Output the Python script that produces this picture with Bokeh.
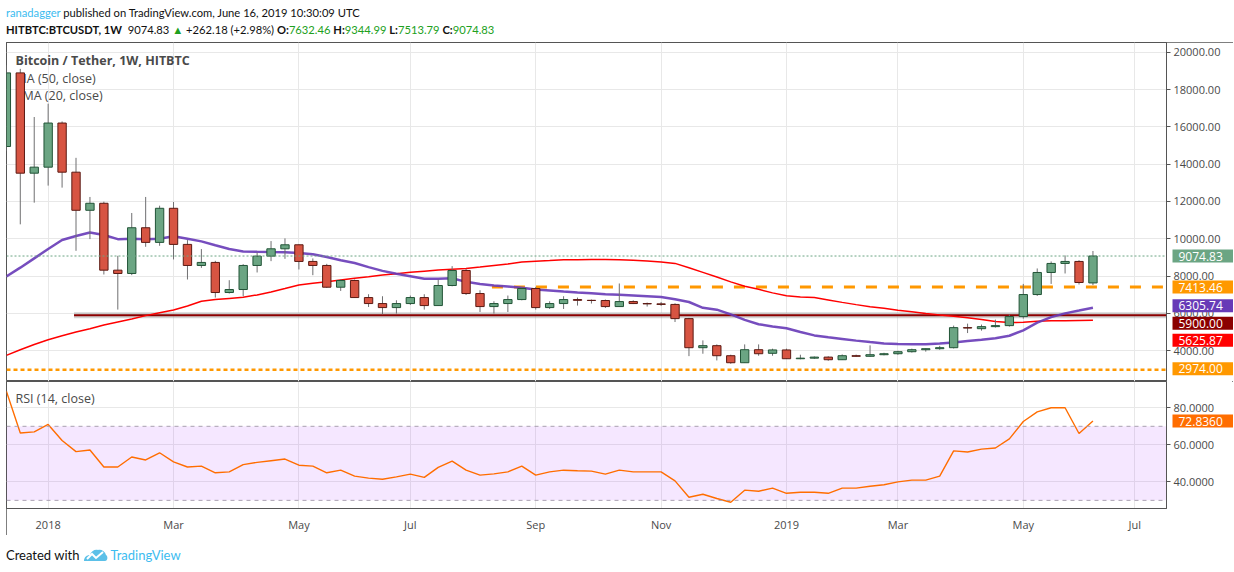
import pandas as pd
from bokeh.plotting import figure
from bokeh.models import (Range1d, FixedTicker, Span, BoxAnnotation, Label, Div,
                          NumeralTickFormatter, ColumnDataSource)
from bokeh.layouts import column
from bokeh.embed import file_html
from bokeh.resources import INLINE

# ---------------- data (weekly bars, BTC/USDT HitBTC) ----------------
first_week = "2017-12-11"
opens = [14945, 18891, 13515, 13838, 16203, 13569, 11526, 11902, 8317, 8139,
         10591, 9806, 11633, 9698, 8569, 8731, 7118, 7279, 8569, 9069,
         9462, 9677, 8784, 8569, 7403, 7763, 6849, 6527, 6311, 6527,
         6849, 6419, 7494, 8300, 7064, 6365, 6527, 6741, 7333, 6311,
         6527, 6741, 6700, 6690, 6365, 6634, 6527, 6510, 6480, 5720,
         4161, 4269, 3731, 3355, 4053, 3860, 4040, 3570, 3600, 3656,
         3516, 3731, 3700, 3785, 3838, 3946, 4053, 4107, 4161, 5236,
         5180, 5290, 5344, 5828, 7010, 8193, 8677, 8784, 7632.46]
highs = [19300, 19106, 16526, 17241, 16289, 14338, 12241, 11988, 9086, 11381,
         12241, 11773, 11972, 9930, 9446, 8817, 7779, 8639, 9268, 9876,
         10021, 9700, 8946, 8656, 7817, 7817, 7026, 6919, 6704, 6957,
         7026, 7817, 8532, 8387, 7241, 6650, 6957, 7419, 7419, 6650,
         6919, 6849, 6741, 6741, 7602, 6700, 6580, 6610, 6540, 5760,
         4553, 4338, 3785, 4338, 4338, 4107, 4110, 3785, 3690, 3700,
         3800, 3790, 4285, 3890, 4000, 4110, 4120, 4260, 5344, 5451,
         5400, 5666, 5935, 7580, 8408, 8784, 9107, 8850, 9344.99]
lows = [14700, 10773, 11935, 12849, 12741, 9354, 9983, 8085, 6204, 8050,
        9569, 9623, 8892, 7817, 8440, 6849, 7064, 6919, 8193, 8800,
        8924, 8354, 8048, 7365, 7204, 6827, 6344, 5951, 5989, 6451,
        6204, 6419, 7450, 6989, 6075, 5989, 6075, 6700, 6204, 6236,
        6236, 6419, 6527, 6290, 6365, 6500, 6365, 6400, 5537, 3709,
        3838, 3478, 3300, 3355, 3730, 3730, 3560, 3540, 3560, 3462,
        3500, 3680, 3680, 3750, 3780, 3900, 3950, 4050, 4120, 4946,
        5075, 5240, 5290, 5720, 6935, 7580, 8139, 7548, 7513.79]
closes = [18891, 13515, 13838, 16203, 13569, 11526, 11902, 8317, 8139, 10591,
          9806, 11633, 9698, 8569, 8731, 7118, 7279, 8569, 9069, 9462,
          9677, 8784, 8569, 7403, 7763, 6849, 6527, 6311, 6527, 6849,
          6419, 7494, 8300, 7064, 6365, 6527, 6741, 7333, 6311, 6527,
          6741, 6700, 6690, 6365, 6634, 6527, 6510, 6480, 5720, 4161,
          4269, 3731, 3355, 4053, 3838, 4040, 3570, 3600, 3656, 3516,
          3731, 3700, 3785, 3838, 3946, 4053, 4107, 4161, 5236, 5215,
          5290, 5344, 5828, 7010, 8193, 8677, 8784, 7655, 9074.83]
ema20 = [7980, 8450, 8950, 9450, 9930, 10150, 10340, 10200, 9980, 10000,
         9980, 10000, 10130, 10000, 9860, 9650, 9450, 9320, 9300, 9290,
         9280, 9240, 9170, 9020, 8850, 8700, 8480, 8280, 8120, 7990,
         7860, 7860, 7880, 7690, 7580, 7500, 7440, 7380, 7280, 7230,
         7170, 7120, 7080, 7030, 7000, 6960, 6920, 6880, 6760, 6610,
         6300, 6200, 5950, 5650, 5420, 5300, 5200, 5000, 4820, 4720,
         4630, 4540, 4460, 4390, 4360, 4340, 4340, 4380, 4440, 4520,
         4590, 4670, 4800, 5090, 5500, 5800, 6000, 6150, 6305.74]
ma50 = [3750, 4050, 4330, 4590, 4800, 5000, 5180, 5380, 5540, 5700,
        5880, 6030, 6180, 6400, 6650, 6740, 6800, 6860, 6990, 7150,
        7330, 7520, 7610, 7700, 7790, 7880, 7960, 8060, 8130, 8200,
        8260, 8320, 8370, 8410, 8480, 8570, 8650, 8760, 8800, 8830,
        8870, 8880, 8890, 8890, 8880, 8850, 8810, 8760, 8680, 8450,
        8200, 7950, 7690, 7450, 7290, 7100, 6940, 6880, 6850, 6720,
        6590, 6470, 6360, 6270, 6170, 6090, 6000, 5920, 5850, 5760,
        5670, 5560, 5510, 5520, 5580, 5600, 5610, 5620, 5625.87]
rsi14 = [89, 66.4, 67, 71, 62.3, 56.3, 57.2, 48, 48, 53.4,
         51.8, 55.7, 50.8, 48, 48.5, 44.9, 45.4, 49.3, 50.5, 51.4,
         52.3, 49, 48.5, 44.9, 46.3, 43.1, 42, 41.4, 42.7, 44.2,
         42.4, 47.8, 51.2, 46.3, 43.6, 44.3, 45.4, 48.5, 43.6, 45.4,
         46.3, 46, 45.8, 44.2, 46.3, 45.4, 45.4, 45.4, 40.5, 31.7,
         33.3, 31, 29, 35.5, 34.9, 36.6, 33.8, 34.4, 34.4, 33.8,
         36.6, 36.6, 37.6, 38.4, 40, 40.9, 40.9, 43.1, 56.7, 56.1,
         57.7, 58.3, 63.2, 72.6, 77.8, 80, 80, 66.1, 72.836]

month_tick_dates = ["2018-01-01", "2018-03-05", "2018-05-07", "2018-07-02", "2018-09-03",
                    "2018-11-05", "2019-01-07", "2019-03-04", "2019-05-06", "2019-07-01"]
month_tick_labels = ["2018", "Mar", "May", "Jul", "Sep", "Nov", "2019", "Mar", "May", "Jul"]
price_ticks = [4000, 6000, 8000, 10000, 12000, 14000, 16000, 18000, 20000]
rsi_ticks = [40, 60, 80]

last_close = 9074.83
resistance, resistance_from = 7413.46, "2018-08-12"
support, support_from = 5900.00, "2018-01-14"
floor_level = 2974.00
rsi_upper, rsi_lower = 70, 30

# ---------------- helpers / styles ----------------
def ms(d):
    return pd.Timestamp(d).value / 1e6

WEEK = 7 * 24 * 3600 * 1000
dates = pd.date_range(first_week, periods=len(closes), freq="W-MON")
xs = [ms(d) for d in dates]
ref = ms("2018-01-01")
x_range = Range1d(ref - 2.99 * WEEK, ref + 80.28 * WEEK)
tick_ms = [ms(d) for d in month_tick_dates]

UP, DOWN = "#6ba583", "#d75442"
UP_LINE, DOWN_LINE = "#225437", "#5b1a13"
FRAME = "#555555"
GRID = "#e8e8e8"
AX_TXT = "#4a4a4a"
FONT = "Open Sans"
W = 1227
RIGHT = 67
PRICE_H, RSI_H, XAX_H = 339, 127, 27

up = [c >= o for o, c in zip(opens, closes)]
src = ColumnDataSource(dict(
    x=xs, o=opens, h=highs, l=lows, c=closes,
    top=[max(o, c) for o, c in zip(opens, closes)],
    bottom=[min(o, c) for o, c in zip(opens, closes)],
    fill=[UP if u else DOWN for u in up],
    line=[UP_LINE if u else DOWN_LINE for u in up],
    ema=ema20, ma=ma50, rsi=rsi14,
))


def style_yaxis(ax, fmt, ticks):
    ax.ticker = FixedTicker(ticks=ticks)
    ax.formatter = NumeralTickFormatter(format=fmt)
    ax.axis_line_color = FRAME
    ax.major_tick_line_color = FRAME
    ax.major_tick_out = 4
    ax.major_tick_in = 0
    ax.minor_tick_line_color = None
    ax.major_label_text_color = AX_TXT
    ax.major_label_text_font = FONT
    ax.major_label_text_font_size = "11px"
    ax.major_label_standoff = 3


def price_boxes(fig, frame_h, items):
    """items: (value, colour, pixel shift up) -> coloured value tags on the price scale"""
    yr = fig.y_range
    per_px = (yr.end - yr.start) / frame_h
    fig.text(x=[x_range.end] * len(items),
             y=[v + dy * per_px for v, _, dy in items],
             text=[(f"{v:.4f}" if v < 100 else f"{v:.2f}") for v, _, _ in items],
             x_offset=6, text_color="white", text_font={"value": FONT},
             text_font_size="12px", text_baseline="middle", text_align="left",
             background_fill_color=[c for _, c, _ in items], background_fill_alpha=1.0,
             padding=dict(left=6, right=14, top=2, bottom=2), level="overlay")


def legend(fig, frame_h, y_from_top, text, bold=False):
    fig.add_layout(Label(x=9, y=frame_h - y_from_top, x_units="screen", y_units="screen",
                         text=text, text_color=AX_TXT, text_font=FONT, text_font_size="12.5px",
                         text_font_style="bold" if bold else "normal",
                         text_baseline="middle", level="underlay"))


# ---------------- price pane ----------------
p = figure(width=W, height=PRICE_H, x_range=x_range, y_range=Range1d(2349, 20520),
           output_backend="svg", toolbar_location=None, x_axis_location=None,
           y_axis_location="right", min_border_left=0, min_border_right=RIGHT,
           min_border_top=0, min_border_bottom=0)
p.outline_line_color = FRAME
p.xgrid.ticker = FixedTicker(ticks=tick_ms)
p.grid.grid_line_color = GRID
style_yaxis(p.yaxis[0], "0.00", price_ticks)

legend(p, PRICE_H, 18, "Bitcoin / Tether, 1W, HITBTC", bold=True)
legend(p, PRICE_H, 36, "MA (50, close)")
legend(p, PRICE_H, 53, "EMA (20, close)")

p.add_layout(Span(location=last_close, dimension="width", line_color=UP,
                  line_dash="2 2", line_width=1))
p.add_layout(Span(location=floor_level, dimension="width", line_color="#ff9800",
                  line_dash="4 3", line_width=2.5))
p.ray(x=[ms(support_from)], y=[support], length=0, angle=0, line_color="#9e9e9e",
      line_alpha=0.45, line_width=6)
p.ray(x=[ms(support_from)], y=[support], length=0, angle=0, line_color="#8b0000",
      line_width=2)
p.ray(x=[ms(resistance_from)], y=[resistance], length=0, angle=0, line_color="#ff9800",
      line_width=3, line_dash="11 11")

p.line("x", "ma", source=src, line_color="#ff0000", line_width=1.5)
p.line("x", "ema", source=src, line_color="#673ab7", line_width=2.5, line_alpha=0.9)

p.segment(x0="x", y0="l", x1="x", y1="h", source=src, line_color="#6f6f71", line_width=1)
p.vbar(x="x", width=0.6 * WEEK, top="top", bottom="bottom", source=src,
       fill_color="fill", line_color="line", line_width=1)

price_boxes(p, PRICE_H, [
    (last_close, UP, 0),
    (resistance, "#ff9800", 0),
    (ema20[-1], "#673ab7", 2),
    (support, "#8b0000", -8),
    (ma50[-1], "#ff0000", -20),
    (floor_level, "#ff9800", 1),
])

# ---------------- RSI pane ----------------
r = figure(width=W, height=RSI_H + XAX_H, x_range=x_range, y_range=Range1d(25.6, 94.2),
           output_backend="svg", toolbar_location=None, y_axis_location="right",
           min_border_left=0, min_border_right=RIGHT, min_border_top=0, min_border_bottom=XAX_H)
r.outline_line_color = FRAME
r.grid.grid_line_color = GRID
style_yaxis(r.yaxis[0], "0.0000", rsi_ticks)
xa = r.xaxis[0]
xa.ticker = FixedTicker(ticks=tick_ms)
xa.major_label_overrides = {t: lab for t, lab in zip(tick_ms, month_tick_labels)}
xa.axis_line_color = FRAME
xa.major_tick_line_color = None
xa.minor_tick_line_color = None
xa.major_tick_out = 0
xa.major_label_standoff = 8
xa.major_label_text_color = AX_TXT
xa.major_label_text_font = FONT
xa.major_label_text_font_size = "11px"

r.add_layout(BoxAnnotation(bottom=rsi_lower, top=rsi_upper, fill_color="#9915ff",
                           fill_alpha=0.1, line_color=None, level="underlay"))
for lvl in (rsi_upper, rsi_lower):
    r.add_layout(Span(location=lvl, dimension="width", line_color="#a8a0b0",
                      line_dash="4 4", line_width=1))
r.line("x", "rsi", source=src, line_color="#ff6d00", line_width=1.4)
legend(r, RSI_H, 17, "RSI (14, close)")
price_boxes(r, RSI_H, [(rsi14[-1], "#ff6d00", 0)])

charts = column(p, r, spacing=0, margin=(0, 0, 0, 6),
                styles={"outline": f"1px solid {FRAME}", "outline-offset": "-1px"})

hdr_font = "font-family:'Lato','Open Sans',sans-serif;font-size:11.2px;"
green = "#20a020"
header = Div(width=1234, height=42, margin=0, text=(
    f"<div style=\"{hdr_font}color:#111;line-height:17px;padding:4px 0 0 6px;white-space:nowrap\">"
    "<span style='color:#3cbcf0'>ranadagger</span> published on TradingView.com, June 16, 2019 10:30:09 UTC<br>"
    "<b>HITBTC:BTCUSDT, 1W</b>&nbsp; 9074.83 "
    f"<span style='color:{green}'>&#9650;</span> +262.18 (+2.98%) "
    f"<b>O:</b><span style='color:{green}'>7632.46</span> "
    f"<b>H:</b><span style='color:{green}'>9344.99</span> "
    f"<b>L:</b><span style='color:{green}'>7513.79</span> "
    f"<b>C:</b><span style='color:{green}'>9074.83</span></div>"))

logo = ("<svg width='25' height='14' viewBox='0 0 25 14' style='vertical-align:-2px;margin:0 2px 0 4px'>"
        "<path d='M1 13 C1 9 4 7 7 7 C8 3 12 1 15 2 C18 1 22 3 23 7 C25 8 25 13 22 13 Z' fill='#5bc0e8'/>"
        "<polyline points='4,11 9,6 13,10 20,4' fill='none' stroke='white' stroke-width='2'/></svg>")
footer = Div(width=1234, height=30, margin=0, text=(
    f"<div style=\"font-family:'Lato','Open Sans',sans-serif;font-size:13px;color:#111;padding:11px 0 0 6px;white-space:nowrap\">"
    f"Created with{logo}<span style='color:#3cbcf0'>TradingView</span></div>"))

page = column(header, charts, footer, spacing=0)
open("out.html", "w").write(file_html(page, INLINE))
